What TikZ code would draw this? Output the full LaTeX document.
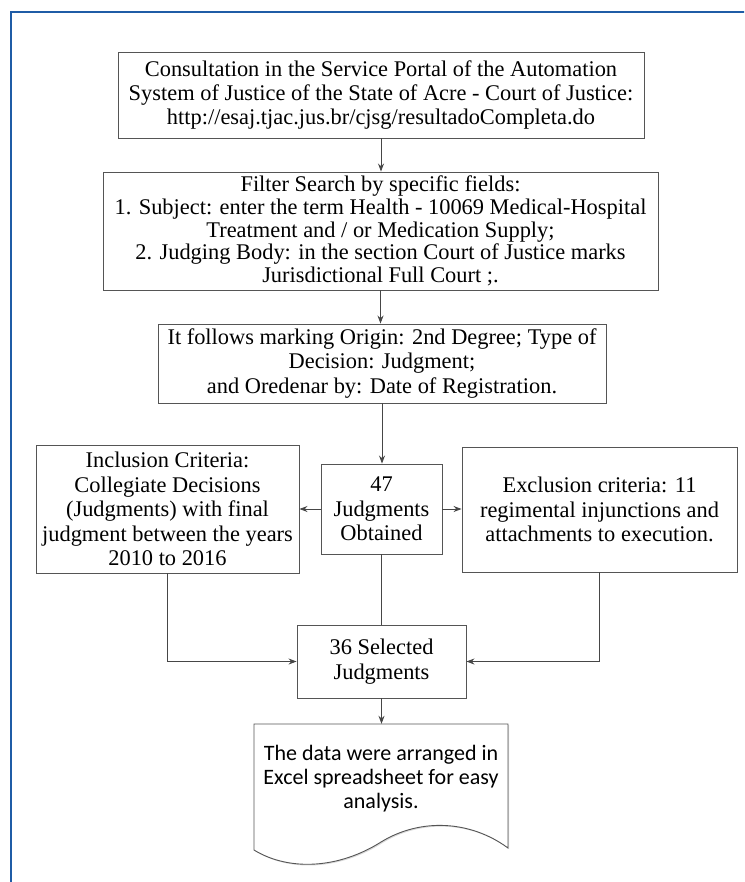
\documentclass[tikz,border=0pt]{standalone}
\usepackage{fontspec}
\setmainfont{Liberation Serif}
\newfontfamily\docfont{Carlito}
\usetikzlibrary{arrows.meta,shadows}
\definecolor{frameblue}{RGB}{31,92,166}
\definecolor{boxline}{RGB}{85,85,85}
\definecolor{arrline}{RGB}{70,70,70}
\tikzset{
  fbox/.style={draw=boxline, line width=0.9pt, fill=white, inner sep=0pt, align=center,
    font=\fontsize{22.4}{24.4}\selectfont,
    drop shadow={shadow xshift=1.2pt, shadow yshift=-1.2pt, fill=black!25, opacity=0.6}},
  arr/.style={draw=arrline, line width=0.9pt, -{Stealth[length=8pt,width=6pt]}},
  plainline/.style={draw=arrline, line width=0.9pt},
}
\begin{document}
\begin{tikzpicture}[x=1pt,y=-1pt]
\useasboundingbox (0,0) rectangle (744,882);
\begin{scope}
\clip (0,0) rectangle (744,882);
\draw[frameblue, line width=2.6pt] (11,12) rectangle (780,920);
\end{scope}

\node[fbox, minimum width=526pt, minimum height=86pt] (b1) at (381,95)
  {Consultation in the Service Portal of the Automation\\
   System of Justice of the State of Acre - Court of Justice:\\
   http://esaj.tjac.jus.br/cjsg/resultadoCompleta.do};

\node[fbox, minimum width=555pt, minimum height=118pt,
  font=\fontsize{22.4}{22.8}\selectfont] (b2) at (380.5,231)
  {Filter Search by specific fields:\\
   1. Subject: enter the term Health - 10069 Medical-Hospital\\
   Treatment and / or Medication Supply;\\
   2. Judging Body: in the section Court of Justice marks\\
   Jurisdictional Full Court ;.};

\node[fbox, minimum width=448pt, minimum height=79pt] (b3) at (382,363.5)
  {It follows marking Origin: 2nd Degree; Type of\\
   Decision: Judgment;\\
   and Oredenar by: Date of Registration.};

\node[fbox, minimum width=263pt, minimum height=128pt] (inc) at (167.5,509)
  {Inclusion Criteria:\\
   Collegiate Decisions\\
   (Judgments) with final\\
   judgment between the years\\
   2010 to 2016};

\node[fbox, minimum width=121pt, minimum height=90pt] (n47) at (381.5,509)
  {47\\ Judgments\\ Obtained};

\node[fbox, minimum width=275pt, minimum height=125pt] (exc) at (599.5,509.5)
  {Exclusion criteria: 11\\
   regimental injunctions and\\
   attachments to execution.};

\node[fbox, minimum width=169pt, minimum height=73pt] (sel) at (381.5,661.5)
  {36 Selected\\ Judgments};

% document shape
\fill[black!25, opacity=0.6, xshift=1.2pt, yshift=-1.2pt]
  (254,724) -- (508,724) -- (508,848)
  .. controls (470,820) and (420,818) .. (381,842)
  .. controls (340,868) and (290,872) .. (254,850) -- cycle;
\draw[boxline, line width=0.9pt, fill=white]
  (254,724) -- (508,724) -- (508,848)
  .. controls (470,820) and (420,818) .. (381,842)
  .. controls (340,868) and (290,872) .. (254,850) -- cycle;
\node[inner sep=0pt, minimum width=254pt, minimum height=110pt, align=center,
  font=\docfont\fontsize{22}{24}\selectfont] (doc) at (381,779)
  {The data were arranged in\\
   Excel spreadsheet for easy\\
   analysis.};

% connectors
\draw[arr] (b1.south) -- (b1.south |- b2.north);
\draw[arr] (b2.south) -- (b2.south |- b3.north);
\draw[arr] (b3.south) -- (b3.south |- n47.north);
\draw[arr] (n47.west) -- (inc.east |- n47.west);
\draw[arr] (n47.east) -- (exc.west |- n47.east);
\draw[plainline] (n47.south) -- (n47.south |- sel.north);
\draw[arr] (inc.south) |- (sel.west);
\draw[arr] (exc.south) |- (sel.east);
\draw[arr] (sel.south) -- (sel.south |- doc.north);
\end{tikzpicture}
\end{document}
